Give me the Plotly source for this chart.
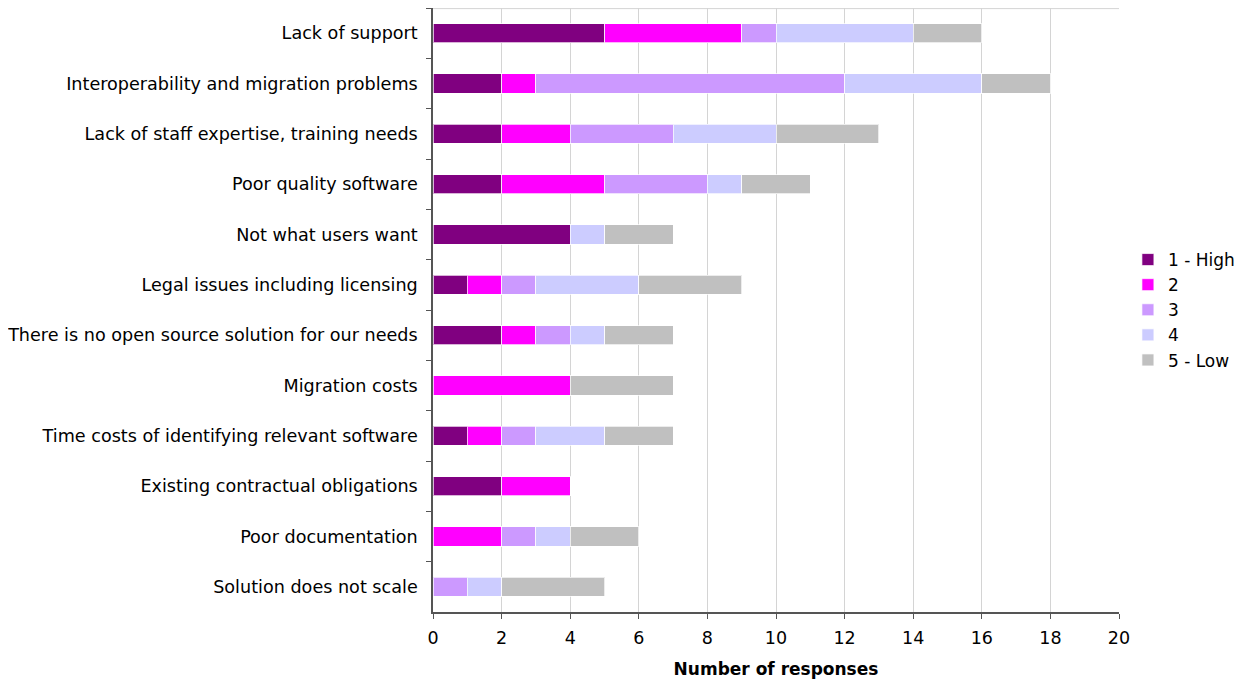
import plotly.graph_objects as go

categories = [
    "Lack of support",
    "Interoperability and migration problems",
    "Lack of staff expertise, training needs",
    "Poor quality software",
    "Not what users want",
    "Legal issues including licensing",
    "There is no open source solution for our needs",
    "Migration costs",
    "Time costs of identifying relevant software",
    "Existing contractual obligations",
    "Poor documentation",
    "Solution does not scale",
]

high_1 = [5, 2, 2, 2, 4, 1, 2, 0, 1, 2, 0, 0]
rank_2 = [4, 1, 2, 3, 0, 1, 1, 4, 1, 2, 2, 0]
rank_3 = [1, 9, 3, 3, 0, 1, 1, 0, 1, 0, 1, 1]
rank_4 = [4, 4, 3, 1, 1, 3, 1, 0, 2, 0, 1, 1]
low_5 = [2, 2, 3, 2, 2, 3, 2, 3, 2, 0, 2, 3]

series = [
    ("1 - High", high_1, "#800080"),
    ("2", rank_2, "#ff00ff"),
    ("3", rank_3, "#cc99ff"),
    ("4", rank_4, "#ccccff"),
    ("5 - Low", low_5, "#c0c0c0"),
]

font = "DejaVu Sans"

fig = go.Figure()
for name, vals, color in series:
    fig.add_trace(go.Bar(
        y=categories, x=vals, name=name, orientation="h",
        marker=dict(color=color, line=dict(color="rgba(255,255,255,0.7)", width=1)),
        width=0.38,
    ))

# page has an 8px body margin, so the figure is a bit smaller than the window
fig.update_layout(
    barmode="stack",
    width=1239, height=671,
    margin=dict(l=425, r=128, t=0, b=67),
    plot_bgcolor="white", paper_bgcolor="white",
    font=dict(family=font, size=17, color="black"),
    legend=dict(x=1.013, y=0.5, yanchor="middle", xanchor="left",
                font=dict(size=17), traceorder="normal",
                itemwidth=30, tracegroupgap=0),
    xaxis=dict(
        range=[0, 20], dtick=2, showgrid=True, gridcolor="#d4d4d4", gridwidth=1,
        showline=True, linecolor="#555555", linewidth=1.5,
        ticks="outside", ticklen=5, tickcolor="#555555",
        zeroline=False, ticklabelstandoff=4, tickfont=dict(size=17.5),
        title=dict(text="<b>Number of responses</b>", font=dict(size=17), standoff=16),
    ),
    yaxis=dict(
        categoryorder="array", categoryarray=categories, autorange="reversed",
        showline=True, linecolor="#555555", linewidth=1.5,
        ticks="outside", ticklen=5, tickcolor="#555555", tickson="boundaries",
        showgrid=False, ticklabelstandoff=10, tickfont=dict(size=17.6),
    ),
    shapes=[dict(type="line", xref="paper", yref="paper", x0=0, x1=1, y0=0.999, y1=0.999,
                 line=dict(color="#d4d4d4", width=1))],
)

fig.write_html("out.html")
